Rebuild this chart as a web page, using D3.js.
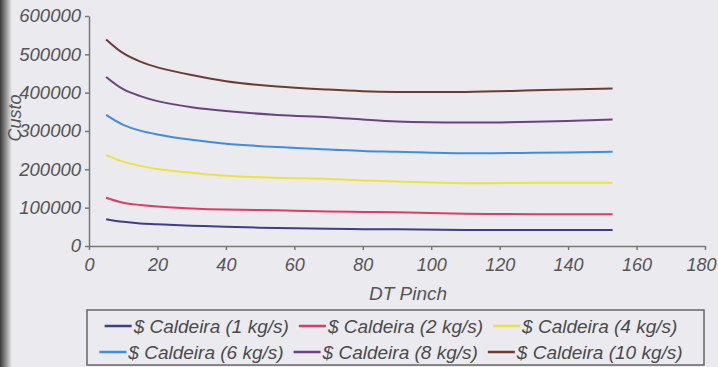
<!DOCTYPE html>
<html>
<head>
<meta charset="utf-8">
<script src="https://cdn.jsdelivr.net/npm/d3@7"></script>
<style>
  html, body { margin: 0; padding: 0; background: #ebeaee; overflow: hidden; }
  svg { display: block; }
  text { font-family: "Liberation Sans", Arial, sans-serif; font-style: italic; fill: #555; }
</style>
</head>
<body>
<div id="chart"></div>
<script>
// Chart data
const dtPinch = [5, 10, 15, 20, 30, 40, 55, 70, 80, 90, 110, 130, 153];
const caldeira1 = [70000, 63000, 59000, 57000, 53000, 50000, 47000, 45000, 44000, 44000, 42000, 42000, 42000];
const caldeira2 = [126000, 113000, 107000, 103000, 98000, 95000, 93000, 90000, 89000, 88000, 84000, 83000, 83000];
const caldeira4 = [237000, 220000, 209000, 201000, 191000, 183000, 178000, 175000, 171000, 168000, 164000, 165000, 165000];
const caldeira6 = [342000, 316000, 301000, 291000, 277000, 267000, 258000, 252000, 248000, 246000, 242000, 243000, 246000];
const caldeira8 = [441000, 409000, 391000, 378000, 362000, 352000, 342000, 336000, 330000, 325000, 322000, 324000, 330000];
const caldeira10 = [539000, 503000, 481000, 466000, 446000, 430000, 416000, 408000, 404000, 402000, 402000, 406000, 411000];
const seriesNames = ['$ Caldeira (1 kg/s)', '$ Caldeira (2 kg/s)', '$ Caldeira (4 kg/s)',
                     '$ Caldeira (6 kg/s)', '$ Caldeira (8 kg/s)', '$ Caldeira (10 kg/s)'];
const xTicks = [0, 20, 40, 60, 80, 100, 120, 140, 160, 180];
const yTicks = [0, 100000, 200000, 300000, 400000, 500000, 600000];

const colors = ['#3c3d8c', '#e23b60', '#ece43a', '#3d8de6', '#6b4382', '#6e3b34'];
const allValues = [caldeira1, caldeira2, caldeira4, caldeira6, caldeira8, caldeira10];
const series = seriesNames.map((name, i) => ({
    name,
    color: colors[i],
    points: dtPinch.map((x, j) => ({x, y: allValues[i][j]}))
}));

const W = 718, H = 367;
const svg = d3.select('#chart').append('svg')
    .attr('width', W).attr('height', H);

// scanned page edge on the left
const grad = svg.append('defs').append('linearGradient').attr('id', 'edge');
grad.append('stop').attr('offset', '0%').attr('stop-color', '#3a3a3a');
grad.append('stop').attr('offset', '100%').attr('stop-color', '#ebeaee');
svg.append('rect').attr('x', 0).attr('y', 0).attr('width', 12).attr('height', H)
    .attr('fill', 'url(#edge)');

const x = d3.scaleLinear().domain([0, 180]).range([89, 705]);
const y = d3.scaleLinear().domain([0, 600000]).range([246, 16]);

// axes
const xAxis = svg.append('g')
    .attr('transform', `translate(0,${y(0)})`)
    .call(d3.axisBottom(x).tickValues(xTicks).tickSizeInner(4).tickSizeOuter(0).tickPadding(8));
xAxis.selectAll('text').style('font-size', '18px');
// last label sits flush against the page edge
xAxis.selectAll('.tick text').filter(d => d === 180).attr('dx', -4);

const yAxis = svg.append('g')
    .attr('transform', `translate(${x(0)},0)`)
    .call(d3.axisLeft(y).tickValues(yTicks).tickSizeInner(4).tickSizeOuter(0).tickPadding(4)
        .tickFormat(d3.format('d')));
yAxis.selectAll('text').style('font-size', '18.5px');

svg.selectAll('.domain, .tick line').attr('stroke', '#777').attr('stroke-width', 1.5);
svg.selectAll('.tick text').attr('fill', '#555');

// axis titles
svg.append('text')
    .attr('x', 408).attr('y', 300)
    .attr('text-anchor', 'middle')
    .style('font-size', '19px')
    .text('DT Pinch');

svg.append('text')
    .attr('transform', 'translate(21,118) rotate(-90)')
    .attr('text-anchor', 'middle')
    .style('font-size', '18px')
    .text('Custo');

// lines
const line = d3.line()
    .x(d => x(d.x))
    .y(d => y(d.y))
    .curve(d3.curveCatmullRom.alpha(0.5));

svg.selectAll('.series')
    .data(series)
    .enter()
    .append('path')
    .attr('class', 'series')
    .attr('d', d => line(d.points))
    .attr('fill', 'none')
    .attr('stroke', d => d.color)
    .attr('stroke-width', 2);

// legend
const legend = svg.append('g');
legend.append('rect')
    .attr('x', 87).attr('y', 310)
    .attr('width', 617).attr('height', 55)
    .attr('fill', 'none')
    .attr('stroke', '#666')
    .attr('stroke-width', 1.5);

const rows = [series.slice(0, 3), series.slice(3, 6)];
const rowY = [326, 352];
const sampleLen = 27, gapText = 2, gapItem = 10, rowCenter = 391;

rows.forEach((items, r) => {
    const g = legend.append('g');
    let cx = 0;
    items.forEach(s => {
        g.append('line')
            .attr('x1', cx).attr('x2', cx + sampleLen)
            .attr('y1', rowY[r]).attr('y2', rowY[r])
            .attr('stroke', s.color).attr('stroke-width', 2.5);
        const t = g.append('text')
            .attr('x', cx + sampleLen + gapText)
            .attr('y', rowY[r])
            .attr('dy', '0.35em')
            .style('font-size', '19px')
            .style('fill', '#4a4a4a')
            .text(s.name);
        cx += sampleLen + gapText + t.node().getComputedTextLength() + gapItem;
    });
    const total = cx - gapItem;
    g.attr('transform', `translate(${rowCenter - total / 2},0)`);
});
</script>
</body>
</html>
